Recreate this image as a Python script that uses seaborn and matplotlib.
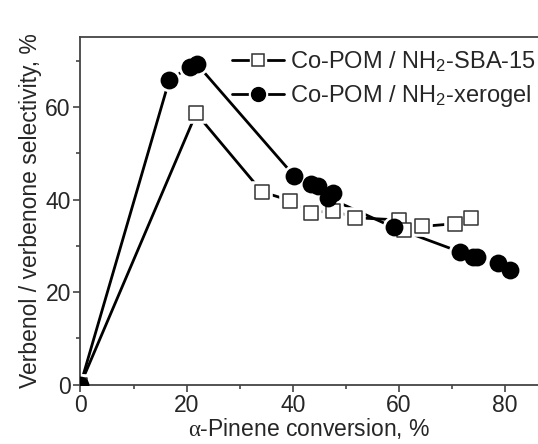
import numpy as np
import pandas as pd
import matplotlib
matplotlib.use('Agg')
import matplotlib.pyplot as plt
from matplotlib.lines import Line2D
from matplotlib.ticker import MultipleLocator
import seaborn as sns

# data
sba_x = [0, 21.8, 34.2, 39.5, 43.5, 47.6, 51.8, 60.1, 61.0, 64.3, 70.5, 73.6]
sba_y = [0, 58.7, 41.7, 39.8, 37.2, 37.6, 36.1, 35.6, 33.4, 34.2, 34.8, 36.1]
xero_x = [0, 16.7, 20.6, 21.9, 40.3, 43.5, 44.8, 47.6, 46.7, 59.0, 71.5, 73.9, 74.7, 78.7, 80.9]
xero_y = [0, 65.8, 68.8, 69.4, 45.1, 43.5, 43.0, 41.4, 40.4, 34.0, 28.7, 27.5, 27.5, 26.2, 24.8]
labels = ['Co-POM / NH$_2$-SBA-15', 'Co-POM / NH$_2$-xerogel']

sba = pd.DataFrame({'x': sba_x, 'y': sba_y})
xero = pd.DataFrame({'x': xero_x, 'y': xero_y})

sns.set_style('ticks')
plt.rcParams['font.family'] = ['Liberation Sans', 'DejaVu Sans']
plt.rcParams['mathtext.fontset'] = 'custom'
plt.rcParams['mathtext.rm'] = 'Liberation Sans'
plt.rcParams['mathtext.it'] = 'Liberation Serif'
plt.rcParams['axes.edgecolor'] = '#444444'

fs = 16.5

fig = plt.figure(figsize=(5.38, 4.44), dpi=100)
ax = fig.add_axes([0.1496, 0.134, 0.8504, 0.7826])

lw = 2.0
# connecting lines
sns.lineplot(data=sba, x='x', y='y', sort=False, estimator=None, color='black', lw=lw, ax=ax, zorder=1)
sns.lineplot(data=xero, x='x', y='y', sort=False, estimator=None, color='black', lw=lw, ax=ax, zorder=1)

# white halos so the lines stop short of the markers
sns.scatterplot(data=sba, x='x', y='y', marker='s', s=200, color='white', edgecolor='white', ax=ax, zorder=2)
sns.scatterplot(data=xero, x='x', y='y', marker='o', s=240, color='white', edgecolor='white', ax=ax, zorder=2)

# markers
sns.scatterplot(data=sba, x='x', y='y', marker='s', s=115, color='white', edgecolor='#333333', linewidth=1.1, ax=ax, zorder=3)
sns.scatterplot(data=xero, x='x', y='y', marker='o', s=165, color='black', edgecolor='black', linewidth=0, ax=ax, zorder=3)

ax.set_xlim(0, 86.2)
ax.set_ylim(0, 75.2)
ax.xaxis.set_major_locator(MultipleLocator(20))
ax.xaxis.set_minor_locator(MultipleLocator(10))
ax.yaxis.set_major_locator(MultipleLocator(20))
ax.yaxis.set_minor_locator(MultipleLocator(10))
ax.tick_params(which='major', length=5, width=1.2, color='#444444', labelsize=fs, pad=2)
ax.tick_params(which='minor', length=3, width=1.2, color='#444444')
ax.spines['right'].set_visible(False)
for sp in ['left', 'bottom', 'top']:
    ax.spines[sp].set_linewidth(1.3)

ax.set_xlabel(r'$\alpha$-Pinene conversion, %', fontsize=fs, labelpad=-1)
ax.set_ylabel('Verbenol / verbenone selectivity, %', fontsize=fs, labelpad=2)

h1 = (Line2D([], [], color='black', lw=lw),
      Line2D([], [], ls='', marker='s', ms=12, mfc='white', mec='white'),
      Line2D([], [], ls='', marker='s', ms=8, mfc='white', mec='#333333', mew=1.1))
h2 = (Line2D([], [], color='black', lw=lw),
      Line2D([], [], ls='', marker='o', ms=13, mfc='white', mec='white'),
      Line2D([], [], ls='', marker='o', ms=10, mfc='black', mec='black'))
ax.legend([h1, h2], labels, loc='upper right', frameon=False, fontsize=17,
          handlelength=2.2, handletextpad=0.25, labelspacing=0.4,
          borderaxespad=0.0, borderpad=0.3, bbox_to_anchor=(1.01, 0.985))

plt.savefig('out.png', dpi=100)
plt.close()
